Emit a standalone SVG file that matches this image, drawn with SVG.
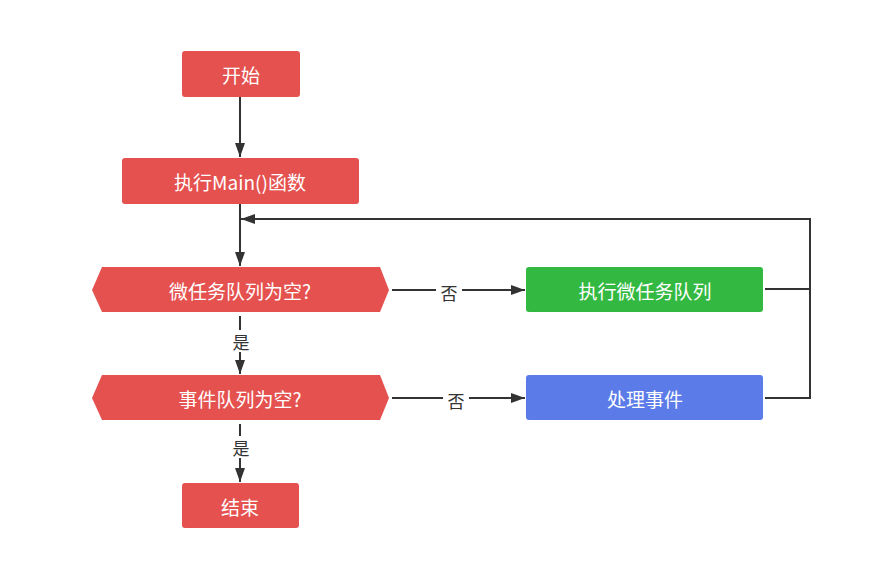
<svg xmlns="http://www.w3.org/2000/svg" width="892" height="561" viewBox="0 0 892 561">
<style>
.t{font-family:"Noto Sans CJK SC","Liberation Sans",sans-serif;font-size:19px;fill:#fff;text-anchor:middle;dominant-baseline:central}
.l{font-family:"Noto Sans CJK SC","Liberation Sans",sans-serif;font-size:17px;fill:#333;text-anchor:middle;dominant-baseline:central}
.c{stroke:#333;stroke-width:2;fill:none}
.red{fill:#e5514f}
</style>
<defs>
<marker id="ah" viewBox="0 0 14 10" refX="14" refY="5" markerWidth="14" markerHeight="10" markerUnits="userSpaceOnUse" orient="auto">
<path d="M0,0 L14,5 L0,10 Z" fill="#333"/>
</marker>
</defs>
<rect width="892" height="561" fill="#fff"/>
<g id="connectors">
<path class="c" d="M240,97 V157" marker-end="url(#ah)"/>
<path class="c" d="M240,204 V266" marker-end="url(#ah)"/>
<path class="c" d="M240,316 V374" marker-end="url(#ah)"/>
<path class="c" d="M240,424 V482" marker-end="url(#ah)"/>
<path class="c" d="M392,290 H525" marker-end="url(#ah)"/>
<path class="c" d="M392,398 H525" marker-end="url(#ah)"/>
<path class="c" d="M765,289 H810 M765,398 H810 V219 H241" marker-end="url(#ah)"/>
<rect x="228" y="330" width="24" height="22" fill="#fff"/>
<text class="l" x="241" y="341">是</text>
<rect x="228" y="436" width="24" height="22" fill="#fff"/>
<text class="l" x="241" y="447">是</text>
<rect x="436" y="280" width="26" height="22" fill="#fff"/>
<text class="l" x="449" y="292">否</text>
<rect x="443" y="388" width="26" height="22" fill="#fff"/>
<text class="l" x="456" y="400">否</text>
</g>
<g id="start">
<rect class="red" x="182" y="51" width="118" height="46" rx="3"/>
<text class="t" x="241" y="74">开始</text>
</g>
<g id="main">
<rect class="red" x="122" y="158" width="237" height="46" rx="3"/>
<text class="t" x="240" y="181">执行Main()函数</text>
</g>
<g id="micro-empty">
<polygon class="red" points="92,290 102,267 380,267 389,290 380,312 102,312"/>
<text class="t" x="240" y="290">微任务队列为空?</text>
</g>
<g id="event-empty">
<polygon class="red" points="92,398 102,375 380,375 389,398 380,420 102,420"/>
<text class="t" x="240" y="398">事件队列为空?</text>
</g>
<g id="run-micro">
<rect x="526" y="267" width="237" height="45" rx="3" fill="#33b941"/>
<text class="t" x="645" y="290">执行微任务队列</text>
</g>
<g id="handle-event">
<rect x="526" y="375" width="237" height="45" rx="3" fill="#5b7be8"/>
<text class="t" x="645" y="398">处理事件</text>
</g>
<g id="end">
<rect class="red" x="182" y="483" width="117" height="45" rx="3"/>
<text class="t" x="240" y="506">结束</text>
</g>
</svg>
